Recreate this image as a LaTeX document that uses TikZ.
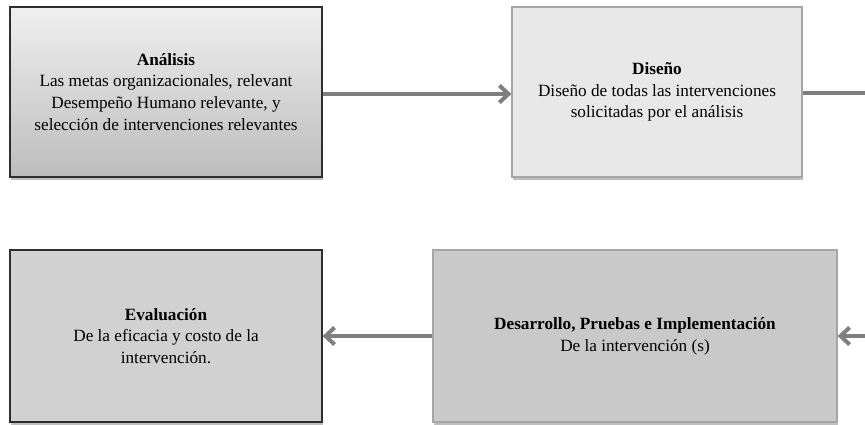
\documentclass[tikz,border=0pt]{standalone}
\usepackage{fontspec}
\setmainfont{Liberation Serif}
\usetikzlibrary{arrows.meta,shadows}
\definecolor{arrowgray}{HTML}{7F7F7F}
\definecolor{darkborder}{HTML}{2E2E2E}
\definecolor{lightborder}{HTML}{A6A6A6}
\tikzset{
  procbox/.style={rectangle, line width=1.3pt, inner sep=0pt, align=center,
    font=\fontsize{17.2}{21.8}\selectfont,
    drop shadow={shadow xshift=1pt, shadow yshift=-3pt, opacity=0.25, fill=black}},
  flow/.style={draw=arrowgray, line width=4pt,
    -{Straight Barb[length=9pt,width=17pt]}},
  plainflow/.style={draw=arrowgray, line width=4pt}
}
\begin{document}
\begin{tikzpicture}[x=1pt,y=1pt]
\useasboundingbox (0,0) rectangle (865,-424);
\node[procbox, draw=darkborder, top color=white!94!black, bottom color=white!74!black,
      minimum width=312pt, minimum height=170pt] (an) at (166,-92)
  {\textbf{Análisis}\\Las metas organizacionales, relevant\\Desempeño Humano relevante, y\\selección de intervenciones relevantes};
\node[procbox, draw=lightborder, fill=white!91!black,
      minimum width=290pt, minimum height=170pt] (di) at (657,-92)
  {\textbf{Diseño}\\Diseño de todas las intervenciones\\solicitadas por el análisis};
\node[procbox, draw=darkborder, fill=white!82!black,
      minimum width=312pt, minimum height=172pt] (ev) at (166,-336)
  {\textbf{Evaluación}\\De la eficacia y costo de la\\intervención.};
\node[procbox, draw=lightborder, fill=white!79!black,
      minimum width=404pt, minimum height=172pt] (de) at (635,-336)
  {\textbf{Desarrollo, Pruebas e Implementación}\\De la intervención (s)};
\coordinate (outR) at (866,-93);
\coordinate (inR) at (866,-336);
\draw[flow] ([yshift=-2pt]an.east) -- ([yshift=-2pt]di.west);
\draw[plainflow] ([yshift=-1pt]di.east) -- (outR);
\draw[flow] (inR) -- (de.east);
\draw[flow] (de.west) -- (ev.east);
\end{tikzpicture}
\end{document}
